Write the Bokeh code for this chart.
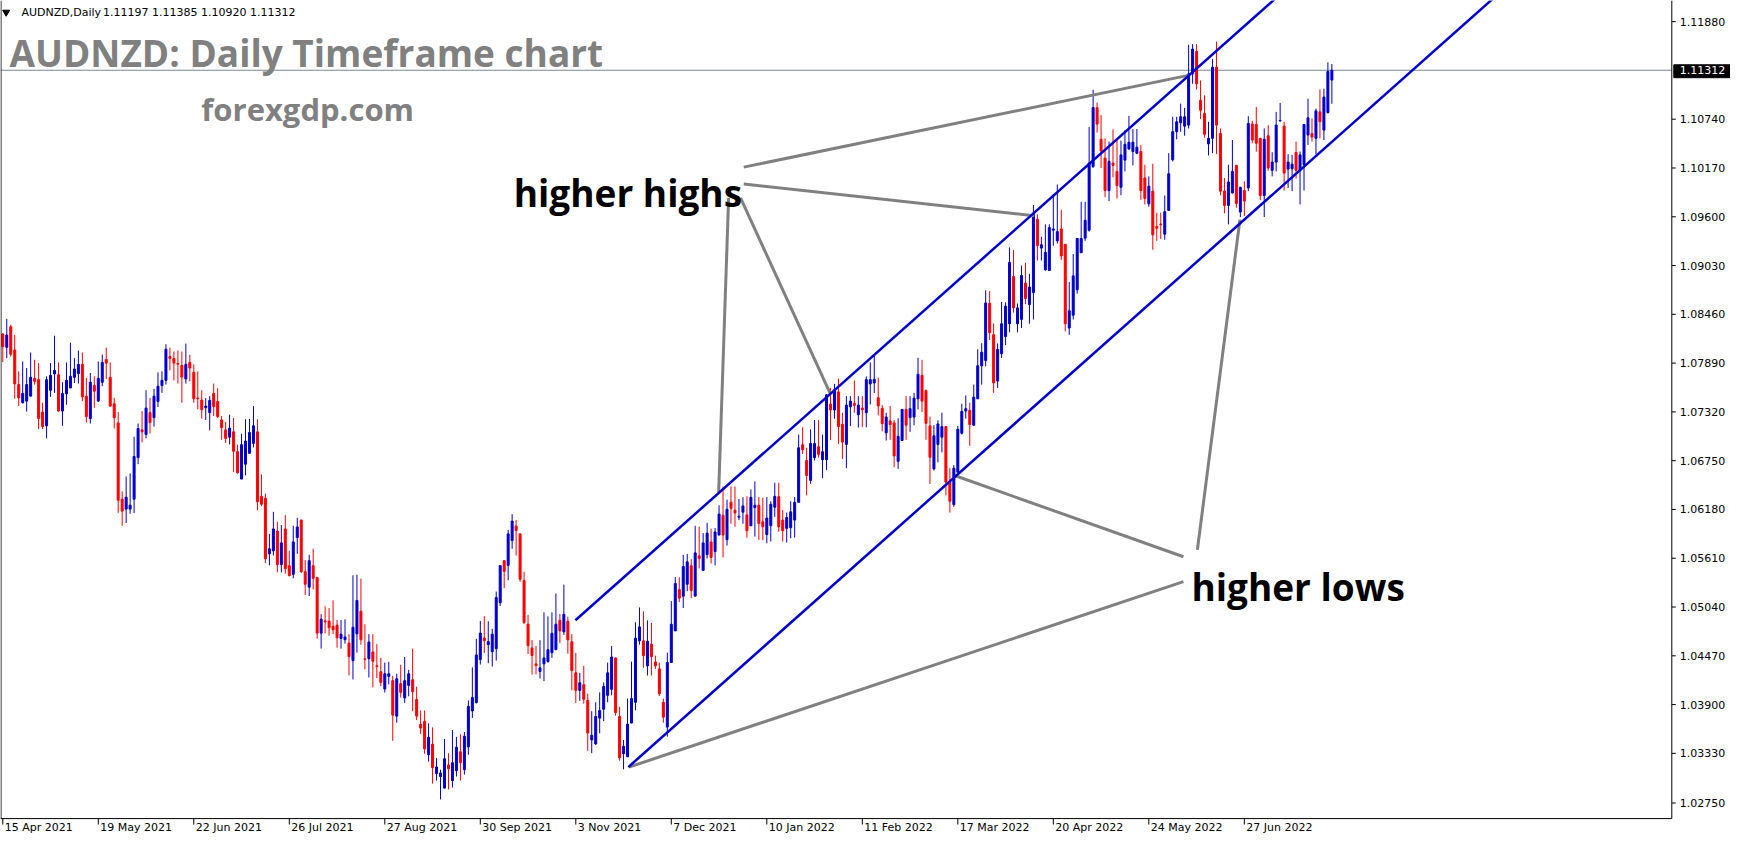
from bokeh.plotting import figure
from bokeh.models import Range1d, ColumnDataSource
from bokeh.embed import file_html
from bokeh.resources import INLINE
from bokeh.core.properties import value

# ---------------- data (AUDNZD daily candles) ----------------
open_ = [
    1.08230, 1.08075, 1.08315, 1.08044, 1.07639, 1.07427, 1.07446, 1.07504, 1.07709, 1.07697,
    1.07319, 1.07157, 1.07573, 1.07763, 1.07755, 1.07330, 1.07531, 1.07600, 1.07724, 1.07767,
    1.07875, 1.07504, 1.07242, 1.07628, 1.07446, 1.07666, 1.07932, 1.07724, 1.07415, 1.07191,
    1.06300, 1.06184, 1.06184, 1.06300, 1.06786, 1.07110, 1.07056, 1.07311, 1.07253, 1.07442,
    1.07628, 1.07689, 1.07967, 1.07944, 1.07886, 1.07863, 1.07705, 1.07898, 1.07782, 1.07481,
    1.07458, 1.07369, 1.07311, 1.07535, 1.07442, 1.07226, 1.07110, 1.07025, 1.07087, 1.06855,
    1.06535, 1.06709, 1.06836, 1.06952, 1.07087, 1.06334, 1.06311, 1.05662, 1.05697, 1.05928,
    1.05535, 1.05952, 1.05523, 1.05422, 1.05851, 1.06056, 1.05453, 1.05272, 1.05523, 1.05384,
    1.04735, 1.04878, 1.04874, 1.04816, 1.04828, 1.04673, 1.04658, 1.04619, 1.04414, 1.04727,
    1.04990, 1.04434, 1.04437, 1.04515, 1.04353, 1.04283, 1.04082, 1.04229, 1.04179, 1.03765,
    1.04144, 1.03978, 1.04124, 1.04190, 1.03959, 1.03669, 1.03704, 1.03314, 1.03437, 1.03094,
    1.03059, 1.02924, 1.03194, 1.03012, 1.03128, 1.03348, 1.03140, 1.03406, 1.03825, 1.03924,
    1.04426, 1.04677, 1.04600, 1.04518, 1.04553, 1.05090, 1.05581, 1.05527, 1.05816, 1.05986,
    1.05894, 1.05350, 1.04840, 1.04562, 1.04375, 1.04286, 1.04375, 1.04402, 1.04506, 1.04541,
    1.04885, 1.04750, 1.04873, 1.04634, 1.04271, 1.04066, 1.04132, 1.03950, 1.03487, 1.03440,
    1.03742, 1.03846, 1.04008, 1.04078, 1.04445, 1.03761, 1.03325, 1.03290, 1.03684, 1.03927,
    1.04645, 1.04645, 1.04352, 1.04607, 1.04398, 1.04317, 1.03927, 1.03637, 1.04391, 1.04761,
    1.05244, 1.05167, 1.05306, 1.05522, 1.05167, 1.05638, 1.05468, 1.05653, 1.05800, 1.05688,
    1.05881, 1.06113, 1.05827, 1.06264, 1.06171, 1.06090, 1.06148, 1.06117, 1.05989, 1.06202,
    1.06229, 1.06036, 1.05886, 1.05990, 1.06206, 1.06329, 1.06056, 1.05959, 1.05967, 1.06056,
    1.06264, 1.06936, 1.06751, 1.06519, 1.06785, 1.06913, 1.06762, 1.06762, 1.07411, 1.07342,
    1.07554, 1.07175, 1.06940, 1.07380, 1.07419, 1.07287, 1.07365, 1.07310, 1.07647, 1.07658,
    1.07485, 1.07361, 1.07075, 1.07214, 1.07191, 1.06743, 1.06986, 1.07349, 1.07253, 1.07260,
    1.07473, 1.07747, 1.07569, 1.07156, 1.06654, 1.06940, 1.07025, 1.07148, 1.06500, 1.06237,
    1.06615, 1.07071, 1.07330, 1.07338, 1.07164, 1.07473, 1.07859, 1.07921, 1.08589, 1.08222,
    1.07680, 1.08000, 1.08200, 1.08350, 1.08902, 1.08350, 1.08400, 1.08825, 1.08574, 1.08713,
    1.09570, 1.09234, 1.08979, 1.08972, 1.09443, 1.09319, 1.09458, 1.09277, 1.08300, 1.08450,
    1.08748, 1.09180, 1.09350, 1.09443, 1.10188, 1.10876, 1.10505, 1.10285, 1.09906, 1.10227,
    1.10130, 1.09945, 1.10262, 1.10393, 1.10362, 1.10343, 1.10362, 1.10053, 1.09752, 1.09899,
    1.09485, 1.09516, 1.09397, 1.09675, 1.10266, 1.10594, 1.10698, 1.10659, 1.10671, 1.11270,
    1.11532, 1.10961, 1.10806, 1.10451, 1.10517, 1.11347, 1.10574, 1.09899, 1.09733, 1.09879,
    1.10200, 1.09655, 1.09906, 1.09937, 1.10683, 1.10679, 1.10517, 1.09848, 1.10547, 1.10142,
    1.10239, 1.10721, 1.10659, 1.10157, 1.10161, 1.10351, 1.10146, 1.10208, 1.10555, 1.10574,
    1.10517, 1.10826, 1.10613, 1.10818, 1.11197,
]
high = [
    1.08237, 1.08407, 1.08338, 1.08218, 1.07793, 1.07909, 1.07832, 1.08014, 1.07929, 1.07890,
    1.07427, 1.07736, 1.07890, 1.08210, 1.07898, 1.07666, 1.07898, 1.08129, 1.07948, 1.08037,
    1.08014, 1.07716, 1.07774, 1.07736, 1.07909, 1.07990, 1.08071, 1.07898, 1.07485, 1.07319,
    1.06392, 1.06566, 1.06601, 1.07029, 1.07184, 1.07330, 1.07573, 1.07485, 1.07589, 1.07782,
    1.07793, 1.08110, 1.08071, 1.08025, 1.08037, 1.08025, 1.08118, 1.07987, 1.07875, 1.07793,
    1.07573, 1.07481, 1.07504, 1.07651, 1.07597, 1.07272, 1.07203, 1.07288, 1.07249, 1.06937,
    1.07064, 1.07234, 1.07238, 1.07388, 1.07234, 1.06590, 1.06365, 1.05894, 1.06152, 1.06036,
    1.05998, 1.06114, 1.05697, 1.05990, 1.06083, 1.06060, 1.05588, 1.05650, 1.05720, 1.05390,
    1.04955, 1.05048, 1.05029, 1.05117, 1.04889, 1.04889, 1.04897, 1.04723, 1.05411, 1.05418,
    1.05372, 1.04839, 1.04723, 1.04723, 1.04607, 1.04445, 1.04391, 1.04399, 1.04237, 1.04260,
    1.04364, 1.04457, 1.04306, 1.04553, 1.04109, 1.03831, 1.03831, 1.03681, 1.03634, 1.03275,
    1.03140, 1.03499, 1.03333, 1.03603, 1.03522, 1.03553, 1.03580, 1.03948, 1.04334, 1.04670,
    1.04878, 1.04932, 1.04874, 1.04785, 1.05221, 1.05523, 1.05581, 1.05940, 1.06125, 1.06056,
    1.05900, 1.05452, 1.04948, 1.04655, 1.04584, 1.04653, 1.04978, 1.04931, 1.04978, 1.05198,
    1.04958, 1.05302, 1.04927, 1.04723, 1.04503, 1.04271, 1.04352, 1.04027, 1.03823, 1.03927,
    1.04043, 1.04159, 1.04391, 1.04584, 1.04450, 1.03873, 1.03487, 1.03970, 1.04402, 1.04862,
    1.05035, 1.04989, 1.04885, 1.04854, 1.04472, 1.04391, 1.03970, 1.04506, 1.05109, 1.05391,
    1.05387, 1.05650, 1.05661, 1.05599, 1.05989, 1.05978, 1.05904, 1.06024, 1.05955, 1.05962,
    1.06229, 1.06449, 1.06294, 1.06449, 1.06449, 1.06302, 1.06322, 1.06333, 1.06414, 1.06507,
    1.06325, 1.06318, 1.06325, 1.06276, 1.06492, 1.06492, 1.06171, 1.06144, 1.06276, 1.06325,
    1.07056, 1.07141, 1.06901, 1.07117, 1.07226, 1.07226, 1.07056, 1.07525, 1.07600, 1.07647,
    1.07709, 1.07310, 1.07504, 1.07504, 1.07689, 1.07504, 1.07504, 1.07735, 1.07898, 1.07979,
    1.07720, 1.07399, 1.07310, 1.07388, 1.07226, 1.07245, 1.07349, 1.07504, 1.07504, 1.07542,
    1.07952, 1.07929, 1.07581, 1.07264, 1.07164, 1.07222, 1.07310, 1.07156, 1.06662, 1.06700,
    1.07156, 1.07415, 1.07512, 1.07427, 1.07639, 1.08052, 1.08122, 1.08740, 1.08732, 1.08354,
    1.08120, 1.08605, 1.08600, 1.09242, 1.09211, 1.08586, 1.09030, 1.09061, 1.08933, 1.09737,
    1.09628, 1.09366, 1.09512, 1.09512, 1.09864, 1.09976, 1.09682, 1.09280, 1.08837, 1.09165,
    1.09346, 1.09775, 1.09775, 1.10648, 1.11084, 1.10934, 1.10787, 1.10517, 1.10478, 1.10621,
    1.10497, 1.10490, 1.10609, 1.10779, 1.10625, 1.10625, 1.10439, 1.10208, 1.10072, 1.10219,
    1.09648, 1.09648, 1.09848, 1.10343, 1.10768, 1.10768, 1.10922, 1.10872, 1.11609, 1.11617,
    1.11617, 1.11192, 1.11019, 1.10710, 1.11443, 1.11648, 1.10632, 1.10053, 1.10208, 1.10497,
    1.10208, 1.09945, 1.10015, 1.10775, 1.10721, 1.10883, 1.10520, 1.10632, 1.10671, 1.10354,
    1.10826, 1.10930, 1.10710, 1.10331, 1.10323, 1.10478, 1.10362, 1.10680, 1.10980, 1.10748,
    1.10864, 1.11088, 1.11096, 1.11405, 1.11385,
]
low = [
    1.07902, 1.07948, 1.07967, 1.07473, 1.07388, 1.07419, 1.07323, 1.07500, 1.07639, 1.07118,
    1.07118, 1.07010, 1.07496, 1.07543, 1.07323, 1.07157, 1.07404, 1.07600, 1.07658, 1.07651,
    1.07446, 1.07195, 1.07184, 1.07369, 1.07435, 1.07620, 1.07705, 1.07380, 1.07126, 1.06141,
    1.05991, 1.06022, 1.06130, 1.06138, 1.06709, 1.06964, 1.07010, 1.07068, 1.07149, 1.07377,
    1.07543, 1.07639, 1.07805, 1.07689, 1.07651, 1.07427, 1.07651, 1.07678, 1.07427, 1.07350,
    1.07242, 1.07226, 1.07103, 1.07272, 1.07249, 1.06994, 1.06956, 1.06940, 1.06616, 1.06601,
    1.06535, 1.06578, 1.06836, 1.06905, 1.06171, 1.06218, 1.05554, 1.05527, 1.05642, 1.05445,
    1.05445, 1.05430, 1.05399, 1.05376, 1.05662, 1.05438, 1.05179, 1.05168, 1.05245, 1.04670,
    1.04554, 1.04731, 1.04704, 1.04723, 1.04565, 1.04554, 1.04611, 1.04240, 1.04194, 1.04507,
    1.04600, 1.04310, 1.04217, 1.04101, 1.04210, 1.04113, 1.04040, 1.04136, 1.03476, 1.03688,
    1.03982, 1.03920, 1.03997, 1.03823, 1.03719, 1.03557, 1.03325, 1.03233, 1.02978, 1.03012,
    1.02792, 1.02924, 1.02908, 1.02931, 1.03059, 1.03012, 1.03082, 1.03313, 1.03744, 1.03912,
    1.04368, 1.04503, 1.04383, 1.04345, 1.04414, 1.05052, 1.05260, 1.05353, 1.05720, 1.05642,
    1.05334, 1.04840, 1.04491, 1.04251, 1.04251, 1.04205, 1.04174, 1.04391, 1.04445, 1.04541,
    1.04618, 1.04715, 1.04495, 1.04066, 1.03919, 1.03943, 1.03912, 1.03359, 1.03332, 1.03429,
    1.03564, 1.03707, 1.03927, 1.04008, 1.03769, 1.03244, 1.03143, 1.03290, 1.03684, 1.03834,
    1.04599, 1.04332, 1.04240, 1.04240, 1.04317, 1.04000, 1.03688, 1.03526, 1.04391, 1.04761,
    1.05097, 1.05028, 1.05225, 1.05144, 1.05167, 1.05491, 1.05468, 1.05607, 1.05549, 1.05526,
    1.05881, 1.05619, 1.05758, 1.06013, 1.05978, 1.06055, 1.06013, 1.05850, 1.05989, 1.05862,
    1.05824, 1.05820, 1.05785, 1.05805, 1.06094, 1.05920, 1.05805, 1.05793, 1.05843, 1.05851,
    1.06264, 1.06828, 1.06345, 1.06480, 1.06751, 1.06785, 1.06546, 1.06639, 1.06990, 1.07241,
    1.06944, 1.06770, 1.06662, 1.07156, 1.07310, 1.07137, 1.07141, 1.07141, 1.07407, 1.07542,
    1.07280, 1.07094, 1.06986, 1.06994, 1.06673, 1.06654, 1.06982, 1.06994, 1.07087, 1.07164,
    1.07349, 1.07318, 1.06994, 1.06477, 1.06635, 1.06731, 1.06847, 1.06345, 1.06144, 1.06210,
    1.06615, 1.07056, 1.07241, 1.06924, 1.07164, 1.07473, 1.07639, 1.07851, 1.08160, 1.07542,
    1.07600, 1.07950, 1.08100, 1.08250, 1.08481, 1.08250, 1.08300, 1.08578, 1.08350, 1.08400,
    1.09088, 1.09088, 1.08972, 1.08972, 1.09261, 1.09288, 1.09095, 1.08260, 1.08220, 1.08400,
    1.08702, 1.09180, 1.09319, 1.09427, 1.10169, 1.10582, 1.10169, 1.09829, 1.09783, 1.10061,
    1.09814, 1.09852, 1.10130, 1.10381, 1.10200, 1.10331, 1.09798, 1.09744, 1.09717, 1.09215,
    1.09319, 1.09339, 1.09331, 1.09667, 1.10246, 1.10505, 1.10594, 1.10547, 1.10632, 1.11154,
    1.11088, 1.10741, 1.10524, 1.10316, 1.10343, 1.10335, 1.09852, 1.09640, 1.09512, 1.09872,
    1.09706, 1.09597, 1.09609, 1.09899, 1.10459, 1.10362, 1.09794, 1.09597, 1.10138, 1.10072,
    1.10130, 1.10710, 1.09906, 1.09937, 1.09899, 1.10045, 1.09744, 1.09906, 1.10439, 1.10478,
    1.10331, 1.10517, 1.10497, 1.10806, 1.10920,
]
close = [
    1.08083, 1.08218, 1.07994, 1.07647, 1.07485, 1.07535, 1.07639, 1.07724, 1.07678, 1.07242,
    1.07149, 1.07697, 1.07747, 1.07805, 1.07330, 1.07535, 1.07689, 1.07736, 1.07821, 1.07875,
    1.07496, 1.07265, 1.07666, 1.07562, 1.07712, 1.07898, 1.07890, 1.07388, 1.07253, 1.06288,
    1.06161, 1.06323, 1.06230, 1.06798, 1.07126, 1.07087, 1.07365, 1.07195, 1.07504, 1.07620,
    1.07689, 1.08052, 1.07944, 1.07890, 1.07878, 1.07728, 1.07875, 1.07832, 1.07473, 1.07473,
    1.07346, 1.07388, 1.07454, 1.07380, 1.07265, 1.07137, 1.07010, 1.07130, 1.06859, 1.06608,
    1.06937, 1.06979, 1.07079, 1.07157, 1.06269, 1.06241, 1.05604, 1.05720, 1.05952, 1.05535,
    1.05789, 1.05488, 1.05407, 1.05801, 1.05975, 1.05453, 1.05306, 1.05581, 1.05376, 1.04735,
    1.04897, 1.04866, 1.04797, 1.04774, 1.04681, 1.04723, 1.04689, 1.04461, 1.04804, 1.05117,
    1.04658, 1.04430, 1.04631, 1.04407, 1.04345, 1.04159, 1.04260, 1.04260, 1.03777, 1.04202,
    1.04043, 1.04179, 1.04260, 1.04051, 1.03765, 1.03626, 1.03383, 1.03518, 1.03163, 1.03171,
    1.03101, 1.03267, 1.03151, 1.03221, 1.03402, 1.03221, 1.03530, 1.03879, 1.03983, 1.04480,
    1.04735, 1.04646, 1.04635, 1.04723, 1.05152, 1.05523, 1.05457, 1.05894, 1.06044, 1.05932,
    1.05365, 1.04859, 1.04589, 1.04474, 1.04356, 1.04329, 1.04445, 1.04541, 1.04734, 1.04839,
    1.04761, 1.04954, 1.04657, 1.04298, 1.04066, 1.04155, 1.03962, 1.03568, 1.03541, 1.03761,
    1.03831, 1.04112, 1.04271, 1.04456, 1.03807, 1.03278, 1.03413, 1.03672, 1.03970, 1.04676,
    1.04808, 1.04472, 1.04641, 1.04460, 1.04352, 1.04027, 1.03753, 1.04391, 1.04839, 1.05314,
    1.05144, 1.05514, 1.05568, 1.05232, 1.05673, 1.05607, 1.05789, 1.05904, 1.05619, 1.05916,
    1.06125, 1.05881, 1.06182, 1.06194, 1.06140, 1.06101, 1.06221, 1.05931, 1.06322, 1.06229,
    1.06017, 1.05978, 1.06079, 1.06241, 1.06333, 1.05978, 1.05932, 1.06086, 1.06152, 1.06264,
    1.06901, 1.06878, 1.06577, 1.06951, 1.06951, 1.06824, 1.06855, 1.07519, 1.07342, 1.07581,
    1.07148, 1.06967, 1.07399, 1.07446, 1.07396, 1.07399, 1.07345, 1.07697, 1.07697, 1.07701,
    1.07388, 1.07183, 1.07260, 1.07172, 1.06805, 1.07033, 1.07349, 1.07164, 1.07357, 1.07481,
    1.07759, 1.07446, 1.07187, 1.06789, 1.07040, 1.07179, 1.07148, 1.06500, 1.06276, 1.06662,
    1.07117, 1.07326, 1.07357, 1.07172, 1.07492, 1.07859, 1.08017, 1.08593, 1.08245, 1.07658,
    1.08050, 1.08350, 1.08555, 1.09068, 1.08535, 1.08535, 1.08914, 1.08643, 1.08779, 1.09644,
    1.09261, 1.09273, 1.09184, 1.09474, 1.09458, 1.09427, 1.09142, 1.08350, 1.08501, 1.08910,
    1.09346, 1.09346, 1.09559, 1.10227, 1.10876, 1.10683, 1.10370, 1.09906, 1.10246, 1.10200,
    1.09964, 1.10323, 1.10447, 1.10470, 1.10470, 1.10412, 1.09906, 1.09814, 1.09957, 1.09389,
    1.09466, 1.09508, 1.09659, 1.10103, 1.10594, 1.10710, 1.10768, 1.10768, 1.11270, 1.11559,
    1.11154, 1.10845, 1.10563, 1.10517, 1.11347, 1.10671, 1.09899, 1.09733, 1.10007, 1.10130,
    1.09756, 1.09945, 1.09783, 1.10690, 1.10497, 1.10459, 1.09848, 1.10505, 1.10169, 1.10239,
    1.10671, 1.10725, 1.10111, 1.10239, 1.10215, 1.10142, 1.10323, 1.10679, 1.10756, 1.10532,
    1.10837, 1.10710, 1.10999, 1.11297, 1.11312,
]

date_ticks = [0, 24, 48, 72, 96, 120, 144, 168, 192, 216, 240, 264, 288, 312]
date_labels = ["15 Apr 2021", "19 May 2021", "22 Jun 2021", "26 Jul 2021", "27 Aug 2021",
               "30 Sep 2021", "3 Nov 2021", "7 Dec 2021", "10 Jan 2022", "11 Feb 2022",
               "17 Mar 2022", "20 Apr 2022", "24 May 2022", "27 Jun 2022"]
price_ticks = [1.11880, 1.10740, 1.10170, 1.09600, 1.09030, 1.08460, 1.07890, 1.07320,
               1.06750, 1.06180, 1.05610, 1.05040, 1.04470, 1.03900, 1.03330, 1.02750]
last_price = 1.11312
header_symbol = "AUDNZD,Daily"
header_ohlc = "1.11197 1.11385 1.10920 1.11312"

# channel (bar index, price)
channel_x0 = [143.9, 157.2]
channel_y0 = [1.04885, 1.03170]
channel_x1 = [320.0, 375.0]
channel_y1 = [1.12158, 1.12170]

# annotation pointers (bar index, price)
pointer_x0 = [186.2, 186.2, 182.4, 185.4, 296.7, 296.7, 300.2]
pointer_y0 = [1.10180, 1.09983, 1.09821, 1.09821, 1.05627, 1.05337, 1.05708]
pointer_x1 = [297.9, 259.2, 179.9, 207.9, 239.2, 157.4, 310.9]
pointer_y1 = [1.11252, 1.09612, 1.06380, 1.07538, 1.06577, 1.03170, 1.09566]

# ---------------- layout of the terminal window (in bar / price units) ----------------
X0, X1 = -0.575, 434.175          # whole window, left to right
Y0, Y1 = 1.02382, 1.12127         # whole window, bottom to top
XB = 419.425                      # right border of the chart pane (price scale starts here)
YB = 1.02568                      # bottom border of the chart pane (time scale below)
BAR = 1.0                         # one bar step (4 px)
PX = 0.00011587                   # one pixel in price units

BULL = "#0000CD"
BEAR = "#FF0000"
FONT_AX = value("DejaVu Sans")

n = len(open_)
idx = list(range(n))
colors = [BULL if c >= o else BEAR for o, c in zip(open_, close)]
src = ColumnDataSource(dict(
    x=idx, open=open_, high=high, low=low, close=close,
    top=[max(o, c) for o, c in zip(open_, close)],
    bottom=[min(o, c) for o, c in zip(open_, close)],
    color=colors,
))

p = figure(frame_width=1730, frame_height=834,
           x_range=Range1d(X0, X1), y_range=Range1d(Y0, Y1),
           output_backend="svg", toolbar_location=None,
           x_axis_location=None, y_axis_location=None,
           min_border_left=0, min_border_top=0, min_border_right=0, min_border_bottom=0,
           background_fill_color="white", border_fill_color="white")
p.xgrid.visible = False
p.ygrid.visible = False
p.outline_line_color = None

# current price line (under the candles)
p.segment(x0=[X0], y0=[last_price], x1=[XB], y1=[last_price], line_color="#778899", line_width=1)

# candles
p.segment(x0="x", y0="low", x1="x", y1="high", source=src, line_color="color", line_width=1)
p.vbar(x="x", top="top", bottom="bottom", width=0.5, source=src,
       fill_color="color", line_color="color", line_width=1)

# pointers and channel
p.segment(x0=pointer_x0, y0=pointer_y0, x1=pointer_x1, y1=pointer_y1,
          line_color="#808080", line_width=3)
p.segment(x0=channel_x0, y0=channel_y0, x1=channel_x1, y1=channel_y1,
          line_color=BULL, line_width=2.5)

# pane borders (left, right, bottom)
p.segment(x0=[X0 + 0.125, XB, X0], y0=[YB, YB, YB],
          x1=[X0 + 0.125, XB, XB], y1=[Y1, Y1, YB],
          line_color="black", line_width=1)

# price scale (right)
p.segment(x0=[XB] * len(price_ticks), y0=price_ticks,
          x1=[XB + BAR] * len(price_ticks), y1=price_ticks, line_color="black", line_width=1)
p.text(x=[XB + 2 * BAR] * len(price_ticks), y=price_ticks,
       text=[f"{t:.5f}" for t in price_ticks], text_font=FONT_AX, text_font_size="11px",
       text_color="black", text_baseline="middle", text_align="left")
p.quad(left=[XB + 0.5 * BAR], right=[X1], top=[last_price + 5.5 * PX],
       bottom=[last_price - 7.5 * PX], fill_color="black", line_color="black")
p.text(x=[XB + 2 * BAR], y=[last_price], text=[f"{last_price:.5f}"], text_font=FONT_AX,
       text_font_size="11px", text_color="white", text_baseline="middle", text_align="left")

# time scale (bottom)
p.segment(x0=date_ticks, y0=[YB] * len(date_ticks), x1=date_ticks,
          y1=[YB - 6 * PX] * len(date_ticks), line_color="black", line_width=1)
p.text(x=[t + 0.5 * BAR for t in date_ticks], y=[YB - 2.5 * PX] * len(date_ticks),
       text=date_labels, text_font=FONT_AX, text_font_size="11px", text_color="black",
       text_baseline="top", text_align="left")

# header and annotation texts
p.scatter(x=[0.85], y=[1.11990], marker="inverted_triangle", size=7, color="black")
p.text(x=[4.675], y=[1.11988], text=[header_symbol], text_font=FONT_AX,
       text_font_size="11px", text_color="black", text_baseline="middle", text_align="left")
p.text(x=[25.2], y=[1.11988], text=[header_ohlc], text_font=FONT_AX,
       text_font_size="11px", text_color="black", text_baseline="middle", text_align="left")
p.text(x=[1.675], y=[1.11524], text=["AUDNZD: Daily Timeframe chart"], text_font=value("Open Sans"),
       text_font_style="bold", text_font_size="37px", text_color="#808080",
       text_baseline="alphabetic", text_align="left")
p.text(x=[49.9], y=[1.10864], text=["forexgdp.com"], text_font=value("Open Sans"),
       text_font_style="bold", text_font_size="31px", text_color="#808080",
       text_baseline="alphabetic", text_align="left")
p.text(x=[128.4], y=[1.09879], text=["higher highs"], text_font=value("Open Sans"),
       text_font_style="bold", text_font_size="37px", text_color="black",
       text_baseline="alphabetic", text_align="left")
p.text(x=[298.7], y=[1.05279], text=["higher lows"], text_font=value("Open Sans"),
       text_font_style="bold", text_font_size="37px", text_color="black",
       text_baseline="alphabetic", text_align="left")

open("out.html", "w").write(file_html(p, INLINE))
